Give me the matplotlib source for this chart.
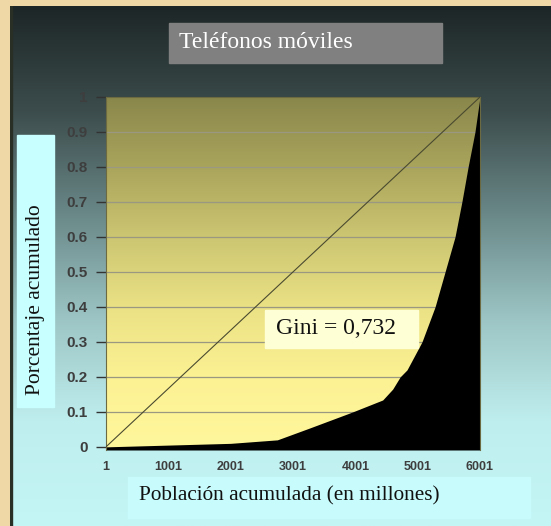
import numpy as np
import matplotlib
matplotlib.use("Agg")
import matplotlib.pyplot as plt
from matplotlib.patches import Rectangle
from matplotlib.colors import LinearSegmentedColormap

# Lorenz curve
poblacion = [1, 800, 2000, 2750, 3270, 3960, 4440, 4600, 4720, 4830, 5070, 5280, 5440, 5600, 5710, 5810, 5920, 6001]
porcentaje = [0, 0.004, 0.01, 0.02, 0.054, 0.1, 0.134, 0.165, 0.2, 0.22, 0.3, 0.4, 0.5, 0.6, 0.7, 0.8, 0.9, 1.0]

x_ticks = [1, 1001, 2001, 3001, 4001, 5001, 6001]
y_ticks = [0, 0.1, 0.2, 0.3, 0.4, 0.5, 0.6, 0.7, 0.8, 0.9, 1]
y_tick_labels = ["0", "0.1", "0.2", "0.3", "0.4", "0.5", "0.6", "0.7", "0.8", "0.9", "1"]

titulo = "Teléfonos móviles"
x_label = "Población acumulada (en millones)"
y_label = "Porcentaje acumulado"
gini_text = "Gini = 0,732"

W, H = 551, 526
fig = plt.figure(figsize=(W / 100, H / 100), dpi=100)
fig.patch.set_facecolor("#efd7a6")

def fx(px):
    return px / W

def fy(py):
    return 1 - py / H

# dark-to-cyan panel
panel = fig.add_axes([fx(10), 0, 1 - fx(10), fy(6)])
panel_cmap = LinearSegmentedColormap.from_list(
    "panel", ["#1d2626", "#3c4c4c", "#6a8888", "#9cc4c4", "#bfeeee", "#c4f6f6"])
grad = np.linspace(0, 1, 256).reshape(-1, 1)
panel.imshow(grad, aspect="auto", cmap=panel_cmap, extent=[0, 1, 0, 1], origin="upper")
panel.set_xlim(0, 1)
panel.set_ylim(0, 1)
panel.axis("off")
panel.add_patch(Rectangle((0, 0), 0.004, 1, color="#2a2f25", transform=panel.transAxes))

# plot area
ax = fig.add_axes([fx(106), fy(450), fx(480) - fx(106), fy(97) - fy(450)])
plot_cmap = LinearSegmentedColormap.from_list(
    "plot", ["#8a874c", "#aaa55c", "#cdc672", "#ebe285", "#fcf294", "#fff79c"])
ymin = -0.009
ax.imshow(grad, aspect="auto", cmap=plot_cmap, extent=[1, 6001, ymin, 1],
          origin="upper", zorder=0)
for yv in y_ticks[1:-1]:
    ax.axhline(yv, color="#9a9880", lw=0.9, zorder=1)
ax.fill_between(poblacion, porcentaje, ymin, color="black", lw=0, zorder=2)
ax.plot([1, 6001], [0, 1], color="#4a4a30", lw=0.8, zorder=3)
ax.set_xlim(1, 6001)
ax.set_ylim(ymin, 1)
ax.set_xticks(x_ticks)
ax.set_xticklabels([str(v) for v in x_ticks])
ax.set_yticks(y_ticks)
ax.set_yticklabels(y_tick_labels)
ax.tick_params(axis="y", length=7, width=1, color="#333333", pad=6,
               labelsize=11, labelcolor="#3e3e3e")
ax.tick_params(axis="x", length=0, pad=8, labelsize=9, labelcolor="#3e3e3e")
for lab in ax.get_xticklabels() + ax.get_yticklabels():
    lab.set_fontweight("bold")
    lab.set_family("Liberation Sans")
for s in ax.spines.values():
    s.set_color("#6b6a40")
    s.set_linewidth(0.8)
ax.spines["bottom"].set_visible(False)

serif = "Liberation Serif"

# title box
fig.patches.append(Rectangle((fx(169), fy(63)), fx(442) - fx(169), fy(23) - fy(63),
                             transform=fig.transFigure, color="#808080", zorder=5))
fig.text(fx(179), fy(43), titulo, family=serif, fontsize=17, color="white",
         va="center", ha="left", zorder=6)

# y label box
fig.patches.append(Rectangle((fx(17), fy(407)), fx(54) - fx(17), fy(135) - fy(407),
                             transform=fig.transFigure, color="#c8ffff", zorder=5))
fig.text(fx(36), fy(300), y_label, family=serif, fontsize=15.5, color="#111111",
         rotation=90, va="center", ha="center", zorder=6)

# x label box
fig.patches.append(Rectangle((fx(128), fy(518)), fx(530) - fx(128), fy(477) - fy(518),
                             transform=fig.transFigure, color="#c8fcfc", zorder=5))
fig.text(fx(289), fy(496), x_label, family=serif, fontsize=15.3, color="#111111",
         va="center", ha="center", zorder=6)

# gini box
fig.patches.append(Rectangle((fx(265), fy(348)), fx(418) - fx(265), fy(310) - fy(348),
                             transform=fig.transFigure, color="#ffffd6", zorder=5))
fig.text(fx(276), fy(329), gini_text, family=serif, fontsize=17, color="#111111",
         va="center", ha="left", zorder=6)

fig.savefig("out.png", dpi=100)
